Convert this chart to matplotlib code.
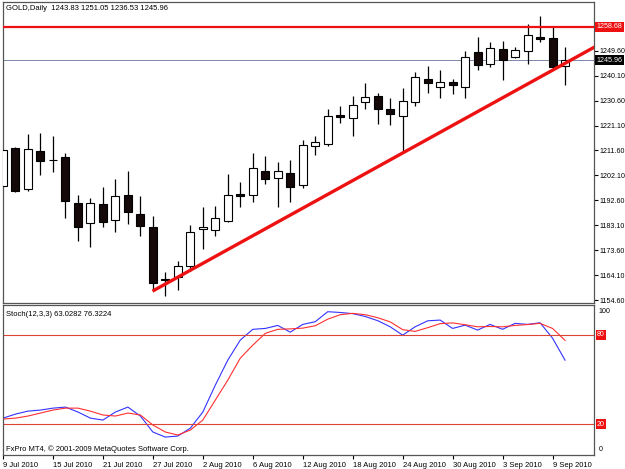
import matplotlib
matplotlib.use('Agg')
import matplotlib.pyplot as plt
import matplotlib.transforms as mtransforms
import numpy as np

plt.rcParams['font.family'] = ['Liberation Sans', 'DejaVu Sans']

# daily bars, 9 Jul 2010 .. 10 Sep 2010
opens = [1198.0, 1212.5, 1196.9, 1211.4, 1208.0, 1209.1, 1191.6, 1183.9, 1191.2, 1185.1,
         1194.6, 1187.4, 1182.4, 1162.8, 1163.4, 1167.6, 1181.7, 1181.3, 1184.7, 1195.0,
         1194.6, 1203.8, 1201.1, 1203.0, 1198.4, 1213.3, 1214.0, 1225.1, 1224.0, 1230.1,
         1232.3, 1227.4, 1224.7, 1230.1, 1238.8, 1235.8, 1237.7, 1235.8, 1249.1, 1244.5,
         1250.3, 1247.2, 1249.5, 1254.8, 1254.4, 1243.83]
highs = [1213.7, 1212.9, 1217.9, 1218.3, 1217.1, 1210.6, 1194.6, 1193.5, 1197.7, 1200.7,
         1203.8, 1194.2, 1186.6, 1165.3, 1169.5, 1183.2, 1190.0, 1190.4, 1202.6, 1199.6,
         1210.6, 1209.5, 1207.2, 1208.0, 1215.6, 1217.1, 1227.4, 1228.5, 1232.3, 1237.3,
         1233.5, 1231.6, 1235.4, 1241.5, 1243.8, 1242.3, 1238.8, 1249.5, 1254.8, 1252.9,
         1253.3, 1251.0, 1259.8, 1262.8, 1258.6, 1251.05]
lows = [1193.9, 1195.8, 1196.1, 1202.2, 1203.4, 1185.9, 1177.1, 1174.8, 1182.4, 1180.5,
        1183.6, 1179.0, 1158.0, 1156.1, 1158.4, 1165.7, 1174.0, 1179.0, 1184.3, 1190.0,
        1191.9, 1198.8, 1190.0, 1191.9, 1197.3, 1209.9, 1213.3, 1222.0, 1217.1, 1227.4,
        1221.7, 1221.3, 1210.6, 1228.5, 1233.5, 1231.6, 1233.1, 1231.6, 1242.3, 1243.4,
        1238.4, 1246.8, 1244.5, 1252.9, 1242.3, 1236.53]
closes = [1211.8, 1196.1, 1212.1, 1207.6, 1207.9, 1192.3, 1182.4, 1191.6, 1184.3, 1194.2,
          1188.1, 1182.8, 1161.1, 1162.2, 1167.6, 1180.5, 1182.4, 1185.9, 1194.6, 1194.2,
          1204.9, 1200.7, 1203.8, 1197.7, 1213.7, 1214.8, 1224.7, 1224.3, 1228.9, 1231.9,
          1227.4, 1225.5, 1230.4, 1239.6, 1237.3, 1237.7, 1236.5, 1247.2, 1244.2, 1250.6,
          1246.1, 1249.9, 1255.6, 1254.1, 1243.4, 1245.96]

stoch_k = [24.2, 26.9, 28.9, 29.6, 30.9, 31.6, 28.3, 24.2, 22.9, 28.3,
           31.6, 25.6, 14.9, 11.5, 12.2, 17.5, 28.3, 46.3, 63.1, 76.5,
           83.7, 84.3, 86.3, 81.8, 87.0, 88.8, 95.5, 95.0, 94.2, 92.3,
           89.5, 85.4, 79.8, 85.4, 89.4, 89.9, 84.3, 86.5, 83.2, 87.0,
           83.7, 87.7, 87.0, 88.1, 77.8, 63.03]
stoch_d = [23.6, 24.2, 25.6, 27.6, 29.6, 30.9, 30.9, 28.9, 26.3, 25.6,
           27.6, 26.3, 19.6, 14.9, 12.9, 16.2, 22.9, 36.3, 49.7, 64.4,
           73.1, 81.0, 83.7, 84.0, 84.5, 86.1, 90.5, 93.5, 94.4, 93.5,
           91.5, 88.7, 83.5, 82.3, 84.8, 87.5, 88.0, 86.8, 85.4, 85.6,
           85.4, 86.3, 86.9, 87.7, 84.3, 76.32]

date_labels = ['9 Jul 2010', '15 Jul 2010', '21 Jul 2010', '27 Jul 2010', '2 Aug 2010',
               '6 Aug 2010', '12 Aug 2010', '18 Aug 2010', '24 Aug 2010', '30 Aug 2010',
               '3 Sep 2010', '9 Sep 2010']
date_pos = [0, 4, 8, 12, 16, 20, 24, 28, 32, 36, 40, 44]

price_ticks = [1154.60, 1164.10, 1173.60, 1183.10, 1192.60, 1202.10,
               1211.60, 1221.10, 1230.60, 1240.10, 1249.60]
resistance = 1258.68
last_price = 1245.96
trend_x = [12, 32]
trend_y = [1158.0, 1210.6]

W, H = 625, 469
fig = plt.figure(figsize=(W / 100, H / 100), dpi=100)
ax1 = fig.add_axes([3 / W, 1 - 303 / H, 591 / W, 301 / H])
ax2 = fig.add_axes([3 / W, 1 - 455 / H, 591 / W, 150 / H])

fs = 5.5
fs_r = 5.1
frame = '#555555'
x = np.arange(len(opens))

# candles
o = np.array(opens); c = np.array(closes)
up = c >= o
ax1.vlines(x, lows, highs, color='black', lw=0.9, zorder=2)
bottoms = np.minimum(o, c)
heights = np.maximum(np.abs(c - o), 0.15)
ax1.bar(x[up], heights[up], bottom=bottoms[up], width=0.64,
        facecolor='white', edgecolor='black', lw=0.8, zorder=3)
ax1.bar(x[~up], heights[~up], bottom=bottoms[~up], width=0.64,
        facecolor='#140808', edgecolor='black', lw=0.8, zorder=3)

# lines
ax1.axhline(resistance, color='#ee1111', lw=1.6, zorder=4)
ax1.axhline(last_price, color='#7a88a8', lw=0.7, zorder=1)
slope = (trend_y[1] - trend_y[0]) / (trend_x[1] - trend_x[0])
tx = np.array([trend_x[0], 50])
ax1.plot(tx, trend_y[0] + slope * (tx - trend_x[0]), color='#ee1111', lw=2.4,
         solid_capstyle='butt', zorder=5)

ax1.set_xlim(0.04, 47.32)
ax1.set_ylim(1153.48, 1268.16)
ax1.set_xticks([])
ax1.yaxis.tick_right()
ax1.set_yticks(price_ticks)
ax1.set_yticklabels(['%.2f' % p for p in price_ticks])
ax1.tick_params(axis='y', length=3, width=0.8, pad=1, labelsize=fs_r, color='black')

trans1 = mtransforms.blended_transform_factory(ax1.transAxes, ax1.transData)
ax1.text(1.004, resistance, '%.2f' % resistance, transform=trans1, ha='left', va='center',
         fontsize=fs_r, color='white', bbox=dict(facecolor='#ee1111', edgecolor='none', pad=1.2),
         clip_on=False, zorder=10)
ax1.text(1.004, last_price, '%.2f' % last_price, transform=trans1, ha='left', va='center',
         fontsize=fs_r, color='white', bbox=dict(facecolor='black', edgecolor='none', pad=1.2),
         clip_on=False, zorder=10)

# stochastic
ax2.plot(x, stoch_k, color='#3333ff', lw=0.8)
ax2.plot(x, stoch_d, color='#ff3030', lw=0.8)
ax2.axhline(80, color='#dd4433', lw=0.8)
ax2.axhline(20, color='#dd4433', lw=0.8)
ax2.set_xlim(0.04, 47.32)
ax2.set_ylim(-0.5, 100)
ax2.set_yticks([])
ax2.set_xticks(date_pos)
ax2.set_xticklabels(date_labels)
ax2.tick_params(axis='x', length=3, width=0.8, pad=2, labelsize=fs)
for lbl in ax2.get_xticklabels():
    lbl.set_ha('left')

trans2 = mtransforms.blended_transform_factory(ax2.transAxes, ax2.transData)
ax2.text(1.008, 98, '100', transform=trans2, ha='left', va='top', fontsize=fs_r)
ax2.text(1.008, 1, '0', transform=trans2, ha='left', va='bottom', fontsize=fs_r)
for lev in [80, 20]:
    ax2.text(1.005, lev, str(lev), transform=trans2, ha='left', va='center', fontsize=fs_r,
             color='white', bbox=dict(facecolor='#ee1111', edgecolor='none', pad=1.0))

for ax in (ax1, ax2):
    for s in ax.spines.values():
        s.set_color(frame)
        s.set_linewidth(0.9)

fig.text(6 / W, 1 - 9 / H, 'GOLD,Daily  1243.83 1251.05 1236.53 1245.96', fontsize=fs, va='center')
fig.text(6 / W, 1 - 314 / H, 'Stoch(12,3,3) 63.0282 76.3224', fontsize=fs, va='center')
fig.text(6 / W, 1 - 449 / H, 'FxPro MT4, \u00a9 2001-2009 MetaQuotes Software Corp.', fontsize=fs, va='center')

fig.savefig('out.png', dpi=100)
